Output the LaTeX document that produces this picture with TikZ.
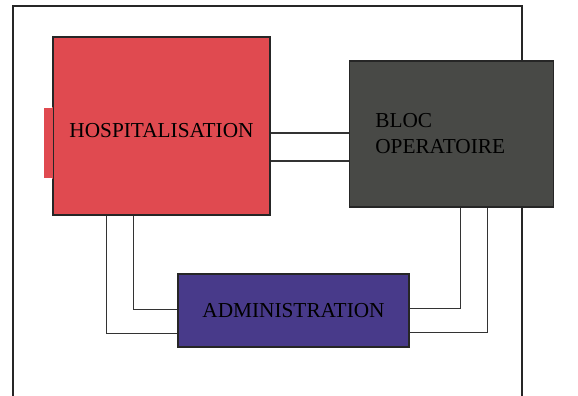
\documentclass[tikz,border=0pt]{standalone}
\usepackage{fontspec}
\setmainfont{Liberation Serif}
\usetikzlibrary{positioning}

\definecolor{hospred}{RGB}{224,74,80}
\definecolor{blocgrey}{RGB}{72,73,70}
\definecolor{adminblue}{RGB}{72,58,138}

\begin{document}
\begin{tikzpicture}[x=1pt,y=-1pt,line width=1.3pt,
        service/.style={rectangle,draw=black!85,inner sep=0pt,
          font=\fontsize{21.3}{26}\selectfont},
        link/.style={draw=black!80,line width=1.2pt}]
        \clip (0,0) rectangle (578,396);
        \useasboundingbox (0,0) rectangle (578,396);
        % outer frame, open at the bottom
        \draw[line width=1.8pt,black!85] (13,400) -- (13,6) -- (522,6) -- (522,400);

        \node[service,fill=hospred,minimum width=217pt,minimum height=178pt] (hosp) at (161.5,126) {\raisebox{-4pt}[14pt][0pt]{HOSPITALISATION}};
        \node[service,fill=hospred,draw=none,minimum width=8pt,minimum height=70pt,anchor=east] (tab) at ([yshift=-17pt]hosp.west) {};
        \fill[hospred] (tab.north east) rectangle ([xshift=1pt]tab.south east);
        \node[service,fill=blocgrey,minimum width=204pt,minimum height=146pt,
          text width=152pt,align=left] (bloc) [right = 78pt of hosp, yshift=-8pt] {BLOC\\OPERATOIRE};
        \node[service,fill=adminblue,minimum width=231pt,minimum height=73pt] (admin) at (293.5,310.5) {ADMINISTRATION};

          \draw[link] ([yshift=-7pt]hosp.east) -- ([yshift=-7pt]hosp.east -| bloc.west);
          \draw[link] ([yshift=-35pt]hosp.east) -- ([yshift=-35pt]hosp.east -| bloc.west);

          \draw[link] ([xshift=54pt]hosp.south west) |- ([yshift=-23pt]admin.west);
          \draw[link] ([xshift=81pt]hosp.south west) |- ([yshift=1pt]admin.west);

          \draw[link] ([xshift=112pt]bloc.south west) |- ([yshift=2pt]admin.east);
          \draw[link] ([xshift=139pt]bloc.south west) |- ([yshift=-22pt]admin.east);

      \end{tikzpicture}
\end{document}
